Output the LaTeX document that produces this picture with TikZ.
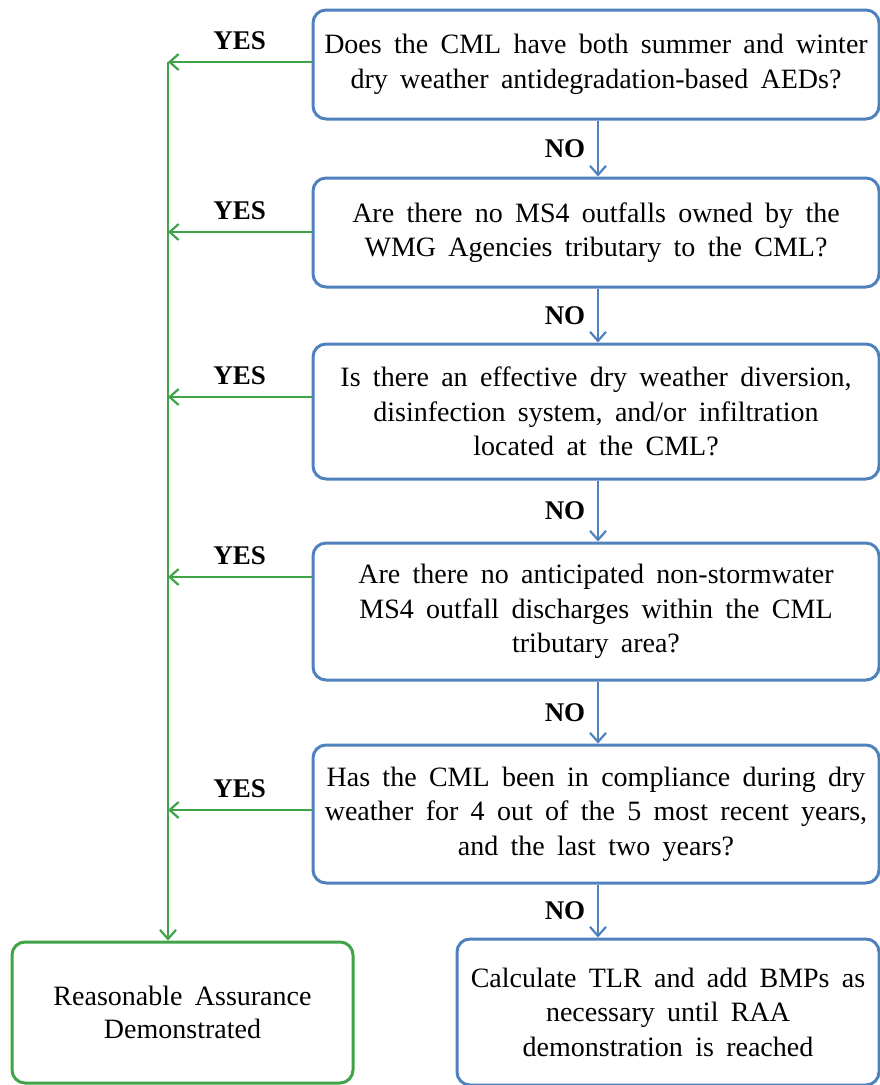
\documentclass[tikz,border=0pt]{standalone}
\usepackage{fontspec}
\setmainfont{Liberation Serif}
\usetikzlibrary{arrows.meta,calc}
\definecolor{qblue}{RGB}{79,129,189}
\definecolor{agreen}{RGB}{64,163,72}
\newcommand{\boxfont}{\fontsize{28}{34.5}\selectfont\spaceskip=0.44em plus 0.1em minus 0.05em\relax}
\begin{document}
\begin{tikzpicture}[x=1pt,y=-1pt,
  qbox/.style={draw=qblue, line width=3pt, rounded corners=13pt, fill=white, align=center,
    font=\boxfont, inner sep=0pt},
  gbox/.style={draw=agreen, line width=3pt, rounded corners=13pt, fill=white, align=center,
    font=\boxfont, inner sep=0pt},
  noarrow/.style={draw=qblue, line width=2.2pt, -{Straight Barb[length=9pt,width=16pt,line width=2.2pt]}},
  yesarrow/.style={draw=agreen, line width=2.2pt, -{Straight Barb[length=9pt,width=16pt,line width=2.2pt]}},
  lbl/.style={font=\fontsize{27}{27}\selectfont\bfseries, inner sep=0pt}
]
\useasboundingbox (0,0) rectangle (880,1085);

\node[qbox, minimum width=566pt, minimum height=109pt] (q1) at (596,64.5)
  {Does the CML have both summer and winter\\ dry weather antidegradation-based AEDs?};
\node[qbox, minimum width=566pt, minimum height=109pt] (q2) at (596,232.5)
  {Are there no MS4 outfalls owned by the\\ WMG Agencies tributary to the CML?};
\node[qbox, minimum width=566pt, minimum height=135pt] (q3) at (596,411.5)
  {Is there an effective dry weather diversion,\\ disinfection system, and/or infiltration\\ located at the CML?};
\node[qbox, minimum width=566pt, minimum height=137pt] (q4) at (596,611.5)
  {Are there no anticipated non-stormwater\\ MS4 outfall discharges within the CML\\ tributary area?};
\node[qbox, minimum width=566pt, minimum height=138pt] (q5) at (596,814)
  {Has the CML been in compliance during dry\\ weather for 4 out of the 5 most recent years,\\ and the last two years?};
\node[qbox, minimum width=422pt, minimum height=146pt] (q6) at (668,1012)
  {Calculate TLR and add BMPs as\\ necessary until RAA\\ demonstration is reached};
\node[gbox, minimum width=341pt, minimum height=141pt] (ra) at (182.5,1012.5)
  {Reasonable Assurance\\[-2pt] Demonstrated};

\coordinate (spine) at (168,62);

% NO arrows
\foreach \a/\b in {q1/q2,q2/q3,q3/q4,q4/q5}{
  \draw[noarrow] ([xshift=2pt]\a.south) -- node[lbl, xshift=-33pt] (no\a) {NO} ([xshift=2pt]\b.north);
}
\draw[noarrow] ([xshift=2pt]q5.south) -- node[lbl, xshift=-33pt] (noq5) {NO} ([xshift=2pt]q5.south |- q6.north);

% YES arrows
\foreach \a/\s in {q1/2.5,q2/0.5,q3/14.5,q4/34.5,q5/4}{
  \draw[yesarrow] ([yshift=\s pt]\a.west) -- node[lbl, yshift=21pt] (yes\a) {YES} ([yshift=\s pt]\a.west -| spine);
}
\draw[yesarrow] (spine) -- (spine |- ra.north);
\end{tikzpicture}
\end{document}
